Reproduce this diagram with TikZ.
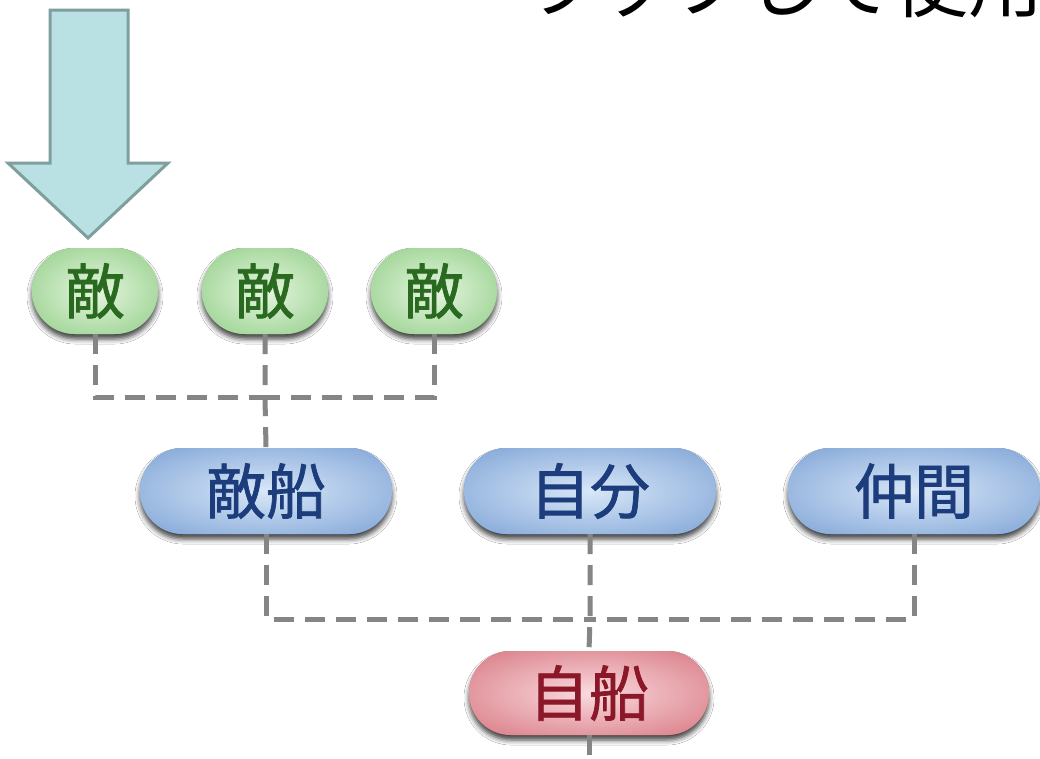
\documentclass[tikz,border=0pt]{standalone}
\usepackage{fontspec}
\setmainfont{Noto Sans CJK JP}
\newfontfamily\pillfont{Noto Sans CJK JP}[FakeBold=1.2]
\usetikzlibrary{shapes.misc,shadows.blur}
\definecolor{gin}{HTML}{E6F6E0}
\definecolor{gout}{HTML}{7DC472}
\definecolor{gtext}{HTML}{2A6A20}
\definecolor{bin}{HTML}{D8E7F8}
\definecolor{bout}{HTML}{6A94CE}
\definecolor{btext}{HTML}{1C3C7C}
\definecolor{rin}{HTML}{FADADE}
\definecolor{rout}{HTML}{D0626D}
\definecolor{rtext}{HTML}{8A1828}
\definecolor{arrowfill}{HTML}{B9E0E2}
\definecolor{arrowline}{HTML}{7F9F9F}
\definecolor{conn}{HTML}{858585}
\tikzset{
  pill/.style={rounded rectangle, inner sep=0pt, minimum height=86pt,
    font=\pillfont\fontsize{60}{60}\selectfont,
    blur shadow={shadow xshift=0pt, shadow yshift=-5pt, shadow blur radius=5pt, shadow opacity=75}},
  greenpill/.style={pill, fill=gout, text=gtext, minimum width=126pt,
    path picture={\shade[inner color=gin, outer color=gout] (path picture bounding box.center) ellipse [x radius=112pt, y radius=76pt];}},
  bluepill/.style={pill, fill=bout, text=btext, minimum width=252pt,
    path picture={\shade[inner color=bin, outer color=bout] (path picture bounding box.center) ellipse [x radius=226pt, y radius=76pt];}},
  redpill/.style={pill, fill=rout, text=rtext, minimum width=240pt, minimum height=84pt,
    path picture={\shade[inner color=rin, outer color=rout] (path picture bounding box.center) ellipse [x radius=215pt, y radius=74pt];}},
  link/.style={draw=conn, line width=5pt, dash pattern=on 20pt off 11pt},
  bigarrow/.style={fill=arrowfill, draw=arrowline, line width=3pt, line join=miter}
}
\begin{document}
\begin{tikzpicture}[x=1pt,y=-1pt]
\useasboundingbox[fill=white] (0,0) rectangle (1040,758);
% title (cut off at the top, as in the reference)
\node[anchor=base east, inner sep=0pt, font=\fontsize{75}{75}\selectfont] (title) at (1044,11) {ラップして使用};
% big arrow
\draw[bigarrow] (50,10) -- (128,10) -- (128,163) -- (168,163) -- (88,238) -- (8,163) -- (50,163) -- cycle;
% nodes
\node[greenpill] (e1) at (95,291) {敵};
\node[greenpill] (e2) at (265,291) {敵};
\node[greenpill] (e3) at (434,291) {敵};
\node[bluepill] (ts) at (266,491) {敵船};
\node[bluepill] (jb) at (590,491) {自分};
\node[bluepill] (nk) at (914,491) {仲間};
\node[redpill] (js) at (589,693) {自船};
\coordinate (b1) at (265,397);
\coordinate (b2) at (590,619);
\coordinate (bend) at (589,762);
% connectors
\draw[link] (e1.south) |- (b1);
\draw[link] (e3.south) |- (b1);
\draw[link] (e2.south) -- (b1) -- (ts.north);
\draw[link] (ts.south) |- (b2);
\draw[link] (nk.south) |- (b2);
\draw[link] (jb.south) -- (b2) -- (js.north);
\draw[link] (js.south) -- (bend);
\end{tikzpicture}
\end{document}
